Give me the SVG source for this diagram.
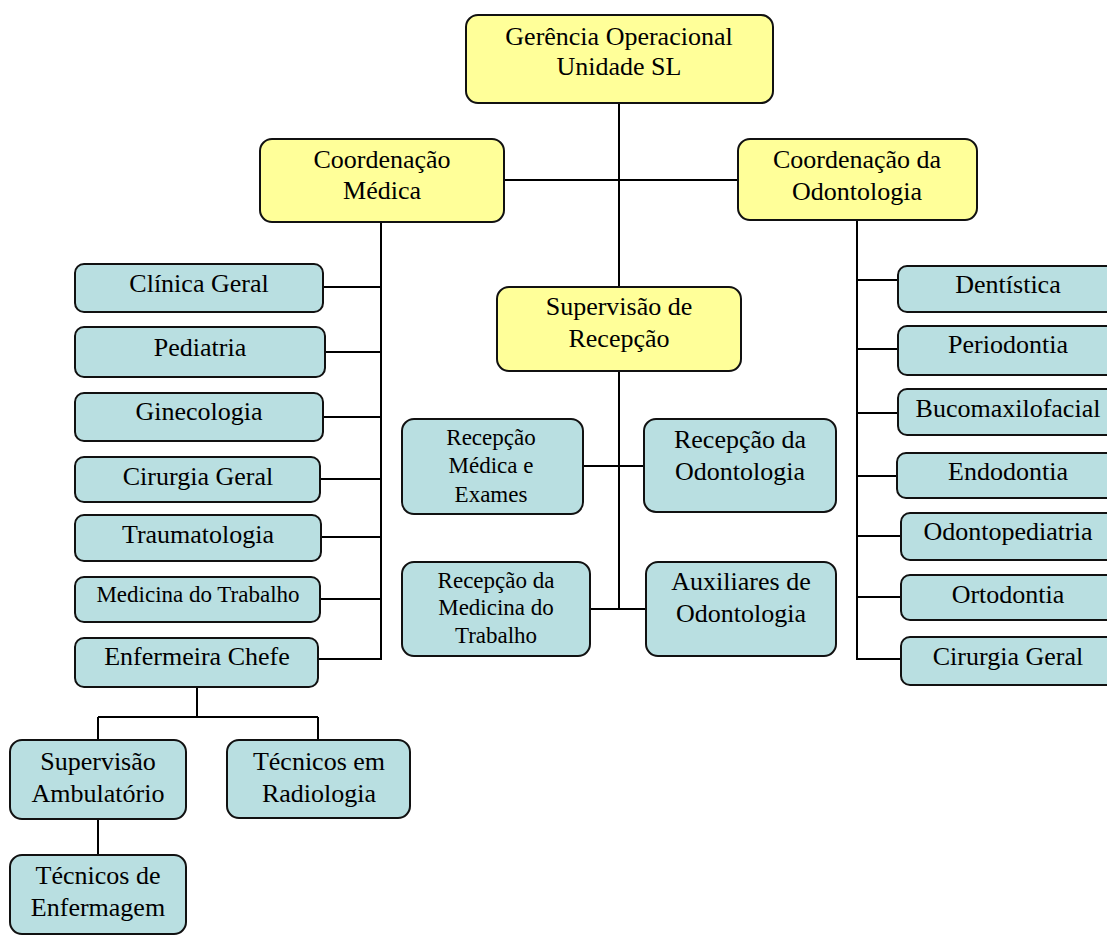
<svg xmlns="http://www.w3.org/2000/svg" width="1107" height="936" viewBox="0 0 1107 936">
<style>
.y{fill:#FFFF99;stroke:#111;stroke-width:2}
.b{fill:#B9DFE1;stroke:#111;stroke-width:2}
text{font-family:"Liberation Serif","Times New Roman",serif;font-size:26px;fill:#000;text-anchor:middle}
.s{font-size:23px}
.c{stroke:#000;stroke-width:2;fill:none}
</style>
<rect width="1107" height="936" fill="#fff"/>
<g id="connectors" class="c">
<path d="M619 103V287M619 371V609M504 180H737"/>
<path d="M583 466H644M590 609H646"/>
<path d="M381 222V660M323 287H381M325 352H381M323 417H381M320 479H381M321 537H381M320 599H381M318 659H381"/>
<path d="M857 220V660M857 280H898M857 349H898M857 413H898M857 476H897M857 536H901M857 597H901M857 659H901"/>
<path d="M197 687V717M98 717H318M98 717V740M318 717V740M98 819V855"/>
</g>
<g id="n-gerencia"><rect class="y" x="466" y="15" width="307" height="88" rx="12"/><text x="619" y="45">Gerência Operacional</text><text x="619" y="75">Unidade SL</text></g>
<g id="n-coordmed"><rect class="y" x="260" y="139" width="244" height="83" rx="12"/><text x="382" y="168">Coordenação</text><text x="382" y="199">Médica</text></g>
<g id="n-coordodo"><rect class="y" x="738" y="139" width="239" height="81" rx="12"/><text x="857" y="168">Coordenação da</text><text x="857" y="200">Odontologia</text></g>
<g id="n-suprec"><rect class="y" x="497" y="287" width="244" height="84" rx="12"/><text x="619" y="315">Supervisão de</text><text x="619" y="347">Recepção</text></g>
<g id="n-recmed"><rect class="b" x="402" y="419" width="181" height="95" rx="12"/><text class="s" x="491" y="445">Recepção</text><text class="s" x="491" y="473">Médica e</text><text class="s" x="491" y="502">Exames</text></g>
<g id="n-recodo"><rect class="b" x="644" y="419" width="192" height="93" rx="12"/><text x="740" y="448">Recepção da</text><text x="740" y="480">Odontologia</text></g>
<g id="n-recmt"><rect class="b" x="402" y="562" width="188" height="94" rx="12"/><text class="s" x="496" y="588">Recepção da</text><text class="s" x="496" y="615">Medicina do</text><text class="s" x="496" y="643">Trabalho</text></g>
<g id="n-aux"><rect class="b" x="646" y="562" width="190" height="94" rx="12"/><text x="741" y="590">Auxiliares de</text><text x="741" y="622">Odontologia</text></g>
<g id="n-clinica"><rect class="b" x="75" y="264" width="248" height="48" rx="9"/><text x="199" y="292">Clínica Geral</text></g>
<g id="n-pediatria"><rect class="b" x="75" y="327" width="250" height="50" rx="9"/><text x="200" y="356">Pediatria</text></g>
<g id="n-gineco"><rect class="b" x="75" y="393" width="248" height="48" rx="9"/><text x="199" y="420">Ginecologia</text></g>
<g id="n-cirurgia"><rect class="b" x="75" y="457" width="245" height="45" rx="9"/><text x="198" y="485">Cirurgia Geral</text></g>
<g id="n-trauma"><rect class="b" x="75" y="515" width="246" height="46" rx="9"/><text x="198" y="543">Traumatologia</text></g>
<g id="n-medtrab"><rect class="b" x="75" y="577" width="245" height="45" rx="9"/><text class="s" x="198" y="602">Medicina do Trabalho</text></g>
<g id="n-enfchefe"><rect class="b" x="75" y="638" width="243" height="49" rx="9"/><text x="197" y="665">Enfermeira Chefe</text></g>
<g id="n-supamb"><rect class="b" x="10" y="740" width="176" height="79" rx="12"/><text x="98" y="770">Supervisão</text><text x="98" y="802">Ambulatório</text></g>
<g id="n-tecrad"><rect class="b" x="227" y="740" width="183" height="78" rx="12"/><text x="319" y="770">Técnicos em</text><text x="319" y="802">Radiologia</text></g>
<g id="n-tecenf"><rect class="b" x="10" y="855" width="176" height="79" rx="12"/><text x="98" y="884">Técnicos de</text><text x="98" y="916">Enfermagem</text></g>
<g id="n-dentistica"><rect class="b" x="898" y="266" width="220" height="46" rx="9"/><text x="1008" y="293">Dentística</text></g>
<g id="n-periodontia"><rect class="b" x="898" y="326" width="220" height="49" rx="9"/><text x="1008" y="353">Periodontia</text></g>
<g id="n-buco"><rect class="b" x="898" y="389" width="220" height="46" rx="9"/><text x="1008" y="417">Bucomaxilofacial</text></g>
<g id="n-endodontia"><rect class="b" x="897" y="453" width="221" height="45" rx="9"/><text x="1008" y="480">Endodontia</text></g>
<g id="n-odontoped"><rect class="b" x="901" y="513" width="217" height="47" rx="9"/><text x="1008" y="540">Odontopediatria</text></g>
<g id="n-ortodontia"><rect class="b" x="901" y="575" width="217" height="45" rx="9"/><text x="1008" y="603">Ortodontia</text></g>
<g id="n-cirurgiao"><rect class="b" x="901" y="637" width="217" height="48" rx="9"/><text x="1008" y="665">Cirurgia Geral</text></g>
</svg>
